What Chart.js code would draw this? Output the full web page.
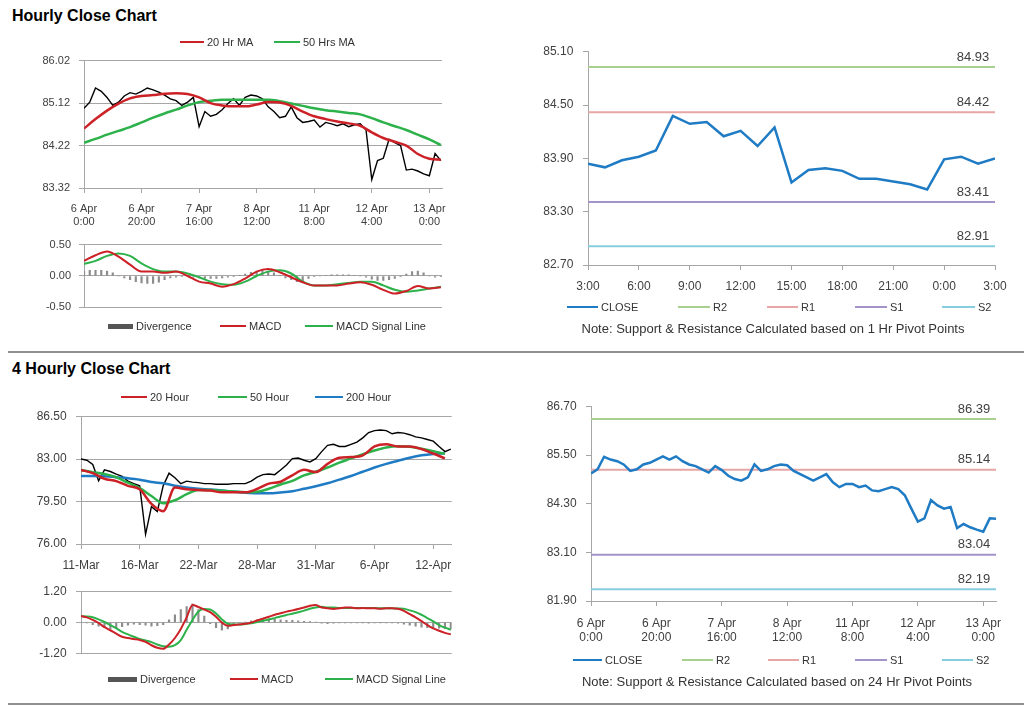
<!DOCTYPE html>
<html><head><meta charset="utf-8">
<script src="https://cdn.jsdelivr.net/npm/chart.js@4.4.1/dist/chart.umd.min.js"></script>
<style>
html,body{margin:0;padding:0;background:#fff}
body{width:1024px;height:706px;position:relative;overflow:hidden;font-family:"Liberation Sans",Arial,sans-serif}
.title{position:absolute;left:12px;font-weight:bold;font-size:16px;color:#000;line-height:18px;white-space:nowrap}
.rule{position:absolute;left:8px;width:1016px;height:0;border-top:2px solid #8f8f8f}
.lgItem{position:absolute;height:13px;font-size:11px;line-height:13px;color:#333;white-space:nowrap}
.note{position:absolute;font-size:13px;color:#333;white-space:nowrap;transform:translateX(-50%);line-height:15px}
</style></head><body>
<div class="title" style="top:7px">Hourly Close Chart</div>
<div class="title" style="top:360px">4 Hourly Close Chart</div>
<div class="rule" style="top:351px"></div>
<div class="rule" style="top:703px"></div>
<script>
// ---------------- DATA ----------------
// Hourly chart (x = hours since 6 Apr 0:00)
const hourlyTickLabels = [['6 Apr','0:00'],['6 Apr','20:00'],['7 Apr','16:00'],['8 Apr','12:00'],['11 Apr','8:00'],['12 Apr','4:00'],['13 Apr','0:00']];
const hourlyClose = [85.01,85.14,85.44,85.37,85.24,85.07,85.14,85.27,85.34,85.31,85.37,85.44,85.40,85.35,85.29,85.21,85.17,85.07,85.14,85.24,84.62,84.94,84.84,84.88,84.98,85.11,85.21,85.07,85.24,85.29,85.27,85.21,85.04,84.94,84.81,84.84,85.04,84.81,84.71,84.73,84.76,84.61,84.71,84.68,84.64,84.68,84.62,84.66,84.68,84.55,83.50,83.90,83.95,84.35,84.28,84.22,83.70,83.72,83.68,83.62,83.58,84.05,83.90];
const ma20Hr = [84.58,84.78,84.96,85.11,85.22,85.27,85.29,85.32,85.33,85.31,85.24,85.12,85.07,85.05,85.05,85.09,85.14,85.13,85.06,84.94,84.84,84.78,84.73,84.69,84.64,84.50,84.38,84.30,84.22,84.04,83.94,83.92];
const ma50Hrs = [84.28,84.36,84.45,84.53,84.61,84.71,84.81,84.90,84.98,85.07,85.14,85.17,85.19,85.19,85.19,85.19,85.19,85.16,85.11,85.06,85.01,84.97,84.94,84.91,84.88,84.80,84.71,84.63,84.55,84.45,84.35,84.23];
const macdHourly = [0.24,0.33,0.39,0.31,0.18,0.07,0.07,0.05,0.07,0.00,-0.09,-0.12,-0.17,-0.13,-0.04,0.07,0.11,0.06,-0.02,-0.10,-0.15,-0.15,-0.15,-0.12,-0.10,-0.14,-0.22,-0.28,-0.24,-0.16,-0.20,-0.18];
const signalHourly = [0.19,0.24,0.32,0.36,0.32,0.20,0.11,0.07,0.07,0.04,-0.02,-0.09,-0.13,-0.14,-0.09,0.00,0.07,0.09,0.04,-0.09,-0.15,-0.15,-0.13,-0.11,-0.09,-0.09,-0.15,-0.22,-0.25,-0.23,-0.20,-0.17];
const divergenceHourly = [0.08,0.09,0.09,0.09,0.08,0.05,0.00,-0.03,-0.06,-0.09,-0.11,-0.12,-0.12,-0.10,-0.06,-0.03,-0.02,-0.01,-0.01,-0.02,-0.03,-0.04,-0.04,-0.04,-0.03,-0.02,-0.01,0.01,0.03,0.06,0.08,0.09,0.08,0.05,0.01,-0.03,-0.06,-0.09,-0.08,-0.04,-0.01,0.00,0.01,0.02,0.02,0.02,0.02,0.01,0.00,-0.02,-0.05,-0.07,-0.07,-0.06,-0.04,-0.01,0.03,0.07,0.08,0.05,0.00,-0.02,-0.01];

// Last 24 hours with 1 Hr pivots
const dayTickLabels = ['3:00','6:00','9:00','12:00','15:00','18:00','21:00','0:00','3:00'];
const dayClose = [83.84,83.80,83.88,83.92,83.99,84.38,84.29,84.31,84.15,84.21,84.04,84.25,83.63,83.77,83.79,83.76,83.67,83.67,83.64,83.61,83.55,83.89,83.92,83.84,83.90];
const pivotNames = ['R2','R1','S1','S2'];
const hourlyPivots = [84.93,84.42,83.41,82.91];

// 4 hourly chart (x = 4h bar index since 11-Mar)
const fourHourTickLabels = ['11-Mar','16-Mar','22-Mar','28-Mar','31-Mar','6-Apr','12-Apr'];
const fourHourClose = [83.00,82.90,82.55,81.20,82.10,81.97,81.76,81.58,81.18,80.97,80.79,76.80,79.08,78.68,80.79,81.84,81.45,80.97,81.18,81.10,81.05,80.97,80.97,80.92,80.92,80.92,80.97,80.97,80.97,81.18,81.50,81.71,81.76,81.71,82.10,82.50,83.03,83.08,82.90,82.76,83.03,83.61,84.13,84.21,84.03,84.03,84.21,84.39,84.74,85.18,85.34,85.39,85.34,85.08,85.18,85.13,85.00,84.82,84.74,84.61,84.47,84.03,83.61,83.82];
const ma20Hour = [82.10,81.84,81.37,81.18,80.79,80.50,79.30,78.70,80.66,80.50,80.45,80.40,80.26,80.26,80.26,80.53,80.97,81.13,81.66,82.11,81.92,82.60,83.10,83.16,83.30,84.03,84.21,84.03,84.03,83.82,83.45,83.05];
const ma50Hour = [82.10,81.92,81.76,81.50,81.05,80.60,79.95,79.35,79.60,80.10,80.45,80.45,80.38,80.32,80.26,80.30,80.55,80.90,81.20,81.65,81.95,82.30,82.70,83.05,83.40,83.70,83.95,84.05,84.00,83.85,83.65,83.42];
const ma200Hour = [81.60,81.60,81.58,81.50,81.42,81.30,81.10,81.00,80.80,80.66,80.55,80.48,80.40,80.30,80.22,80.18,80.18,80.25,80.35,80.55,80.75,81.00,81.30,81.60,81.95,82.30,82.60,82.85,83.10,83.30,83.42,83.48];
const macdFour = [0.25,0.20,0.10,-0.02,-0.18,-0.30,-0.43,-0.55,-0.60,-0.64,-0.68,-0.75,-0.88,-0.98,-1.02,-0.85,-0.60,-0.25,0.20,0.68,0.60,0.50,0.40,0.22,0.00,-0.13,-0.10,-0.08,-0.05,0.00,0.08,0.15,0.22,0.30,0.36,0.42,0.47,0.52,0.58,0.65,0.68,0.58,0.55,0.52,0.55,0.58,0.58,0.55,0.56,0.55,0.55,0.53,0.55,0.55,0.53,0.45,0.32,0.20,0.05,-0.10,-0.23,-0.32,-0.40,-0.46];
const signalFour = [0.24,0.23,0.20,0.12,0.02,-0.10,-0.22,-0.36,-0.46,-0.55,-0.64,-0.70,-0.76,-0.85,-0.92,-0.94,-0.88,-0.68,-0.28,0.10,0.43,0.52,0.50,0.35,0.12,-0.05,-0.08,-0.08,-0.06,-0.03,0.02,0.07,0.12,0.17,0.23,0.29,0.34,0.40,0.46,0.53,0.58,0.61,0.58,0.58,0.56,0.56,0.56,0.56,0.56,0.56,0.56,0.55,0.55,0.55,0.54,0.53,0.47,0.40,0.30,0.17,0.04,-0.10,-0.20,-0.28];
const divergenceFour = [0.02,-0.02,-0.08,-0.14,-0.20,-0.24,-0.22,-0.16,-0.10,-0.06,-0.08,-0.10,-0.14,-0.12,-0.08,0.10,0.30,0.50,0.62,0.72,0.50,0.25,-0.05,-0.20,-0.30,-0.25,-0.10,-0.02,0.02,0.06,0.10,0.14,0.14,0.12,0.10,0.08,0.08,0.06,0.05,0.04,0.02,-0.03,-0.05,-0.03,-0.02,-0.01,-0.02,-0.02,-0.01,-0.03,-0.02,-0.01,-0.02,-0.02,-0.03,-0.06,-0.10,-0.14,-0.18,-0.20,-0.20,-0.22,-0.24,-0.25];

// Hourly close over the week with 24 Hr pivots
const weekClose = [85.05,85.15,85.46,85.39,85.35,85.27,85.11,85.15,85.27,85.31,85.39,85.47,85.39,85.47,85.35,85.27,85.23,85.15,85.07,85.23,85.13,84.99,84.91,84.87,84.95,85.27,85.11,85.15,85.23,85.27,85.25,85.11,85.03,84.95,84.87,84.95,85.03,84.83,84.71,84.79,84.79,84.71,84.75,84.63,84.61,84.66,84.71,84.66,84.51,84.18,83.86,83.94,84.39,84.26,84.18,84.22,83.70,83.80,83.72,83.66,83.61,83.94,83.93];
const dailyPivots = [86.39,85.14,83.04,82.19];

// ---------------- STYLE ----------------
const RED = '#CC2127', GREEN = '#2DB24B', BLUE = '#1F7BC4', BLACK = '#000000';
const AXIS = '#A6A6A6', TXT = '#404040';
const pivotColors = ['#A9D08E', '#E6A6A6', '#A493C9', '#86CDE0'];
Chart.defaults.font.family = '"Liberation Sans", Arial, sans-serif';
Chart.defaults.color = TXT;

const toXY = (vals, step) => vals.map((v, i) => ({x: i * step, y: v}));
const range = (a, b, s) => { const r = []; for (let v = a; v <= b + 1e-9; v += s) r.push(+v.toFixed(4)); return r; };

function yScale(min, max, step, size, pad, width, onArea) {
  return {
    type: 'linear', position: 'left', min, max,
    afterBuildTicks: s => { s.ticks = range(min, max, step).map(v => ({value: v})); },
    afterFit: s => { s.width = width; },
    ticks: {font: {size}, color: TXT, padding: pad, callback: v => Number(v).toFixed(2)},
    grid: {color: AXIS, lineWidth: 1, drawOnChartArea: onArea, tickLength: 5},
    border: {display: true, color: AXIS, width: 1}
  };
}
function xScale(max, step, labels, size, pad, height) {
  return {
    type: 'linear', position: 'bottom', min: 0, max, offset: false,
    afterBuildTicks: s => { s.ticks = labels.map((l, i) => ({value: i * step})); },
    afterFit: s => { s.height = height; },
    ticks: {font: {size}, color: TXT, padding: pad, maxRotation: 0, autoSkip: false, callback: (v, i) => labels[i]},
    grid: {color: AXIS, drawOnChartArea: false, tickLength: 5},
    border: {display: true, color: AXIS, width: 1}
  };
}
function hiddenX(max) {
  return {type: 'linear', min: 0, max, offset: false, display: false};
}
const line = (label, data, color, width, smooth) => ({
  type: 'line', label, data, borderColor: color, backgroundColor: color, borderWidth: width,
  pointRadius: 0, tension: smooth ? 0.4 : 0, cubicInterpolationMode: smooth ? 'monotone' : 'default', fill: false
});
const bars = (label, data) => ({
  type: 'bar', label, data, backgroundColor: '#8C8C8C', borderWidth: 0, barThickness: 1.5
});

const pivotLabelPlugin = {
  id: 'pivotLabels',
  afterDatasetsDraw(chart) {
    const {ctx, chartArea, scales} = chart;
    chart.data.datasets.forEach(ds => {
      if (!ds.pivotText) return;
      const y = scales.y.getPixelForValue(ds.data[0].y);
      ctx.save();
      ctx.font = '13px "Liberation Sans", Arial, sans-serif';
      ctx.fillStyle = TXT; ctx.textAlign = 'center'; ctx.textBaseline = 'middle';
      ctx.fillText(ds.pivotText, chartArea.right - 22, y - 10);
      ctx.restore();
    });
  }
};
const pivotSets = (vals, xmax) => vals.map((v, i) => Object.assign(
  line(pivotNames[i], [{x: 0, y: v}, {x: xmax, y: v}], pivotColors[i], 2, false), {pivotText: v.toFixed(2)}));

function makeChart(box, padding, datasets, scales, plugins) {
  const c = document.createElement('canvas');
  c.width = box.w; c.height = box.h;
  c.style.cssText = `position:absolute;left:${box.x}px;top:${box.y}px;width:${box.w}px;height:${box.h}px`;
  document.body.appendChild(c);
  return new Chart(c, {
    type: 'line',
    data: {datasets},
    options: {
      responsive: false, animation: false, devicePixelRatio: 1,
      layout: {padding},
      plugins: {legend: {display: false}, tooltip: {enabled: false}},
      elements: {point: {radius: 0}},
      scales
    },
    plugins: plugins || []
  });
}

// A: hourly price
makeChart({x: 0, y: 45, w: 460, h: 185}, {top: 7, right: 18, left: 0, bottom: 0},
  [line('20 Hr MA', toXY(ma20Hr, 4), RED, 2.5, true),
   line('50 Hrs MA', toXY(ma50Hrs, 4), GREEN, 2.5, true),
   line('Close', toXY(hourlyClose, 2), BLACK, 1.4, false)],
  {x: xScale(124.4, 20, hourlyTickLabels, 11, 9, 42), y: yScale(83.32, 86.02, 0.9, 11, 9, 84, true)});

// B: hourly MACD
makeChart({x: 0, y: 230, w: 460, h: 92}, {top: 7.7, right: 18, left: 0, bottom: 8.7},
  [line('MACD', toXY(macdHourly, 4), RED, 2, true),
   line('MACD Signal Line', toXY(signalHourly, 4), GREEN, 2, true),
   bars('Divergence', toXY(divergenceHourly, 2))],
  {x: hiddenX(124.4), y: yScale(-0.5, 0.5, 0.5, 11, 8, 84, true)});

// C: last day with 1 Hr pivots
makeChart({x: 520, y: 35, w: 500, h: 265}, {top: 11.7, right: 25, left: 0, bottom: 0},
  [line('CLOSE', toXY(dayClose, 1), BLUE, 2.5, false)].concat(pivotSets(hourlyPivots, 24)),
  {x: xScale(24, 3, dayTickLabels, 12, 9.5, 35), y: yScale(82.7, 85.1, 0.6, 12, 9.7, 68, false)},
  [pivotLabelPlugin]);

// D: 4 hourly price
makeChart({x: 0, y: 400, w: 465, h: 175}, {top: 11, right: 13.3, left: 0, bottom: 0},
  [line('20 Hour', toXY(ma20Hour, 4), RED, 2.5, true),
   line('50 Hour', toXY(ma50Hour, 4), GREEN, 2.5, true),
   line('200 Hour', toXY(ma200Hour, 4), BLUE, 2.5, true),
   line('Close', toXY(fourHourClose, 2), BLACK, 1.4, false)],
  {x: xScale(126.3, 20, fourHourTickLabels, 12, 9.5, 31), y: yScale(76, 86.5, 3.5, 12, 9.3, 81, true)});

// E: 4 hourly MACD
makeChart({x: 0, y: 575, w: 465, h: 95}, {top: 8.3, right: 13.3, left: 0, bottom: 7.3},
  [line('MACD', toXY(macdFour, 2), RED, 2, true),
   line('MACD Signal Line', toXY(signalFour, 2), GREEN, 2, true),
   bars('Divergence', toXY(divergenceFour, 2))],
  {x: hiddenX(126.3), y: yScale(-1.2, 1.2, 1.2, 12, 9.3, 81, true)});

// F: week with 24 Hr pivots
makeChart({x: 520, y: 390, w: 500, h: 260}, {top: 12.7, right: 24, left: 0, bottom: 0},
  [line('CLOSE', toXY(weekClose, 2), BLUE, 2.5, false)].concat(pivotSets(dailyPivots, 124)),
  {x: xScale(123.9, 20, hourlyTickLabels, 12, 10, 49), y: yScale(81.9, 86.7, 1.2, 12, 9.3, 71, false)},
  [pivotLabelPlugin]);

// ---------------- HTML legends ----------------
function legend(y, items) {
  items.forEach(([x, w, color, kind, text]) => {
    const sw = document.createElement('div');
    const h = kind === 'box' ? 5 : 2;
    sw.style.cssText = `position:absolute;left:${x}px;top:${y - h / 2}px;width:${w}px;height:${h}px;background:${color}`;
    document.body.appendChild(sw);
    const t = document.createElement('div');
    t.className = 'lgItem'; t.textContent = text;
    t.style.left = (x + w + 3) + 'px'; t.style.top = (y - 6.5) + 'px';
    document.body.appendChild(t);
  });
}
function note(x, y, text) {
  const d = document.createElement('div');
  d.className = 'note'; d.textContent = text;
  d.style.left = x + 'px'; d.style.top = (y - 7.5) + 'px';
  document.body.appendChild(d);
}
legend(42, [[180, 24, RED, 'line', '20 Hr MA'], [274, 26, GREEN, 'line', '50 Hrs MA']]);
legend(326, [[108, 25, '#555', 'box', 'Divergence'], [220, 26, RED, 'line', 'MACD'], [305, 28, GREEN, 'line', 'MACD Signal Line']]);
legend(307, [[567, 31, BLUE, 'line', 'CLOSE'], [678, 32, pivotColors[0], 'line', 'R2'], [767, 31, pivotColors[1], 'line', 'R1'], [855, 32, pivotColors[2], 'line', 'S1'], [942, 33, pivotColors[3], 'line', 'S2']]);
note(773, 328, 'Note: Support & Resistance Calculated based on 1 Hr Pivot Points');
legend(397, [[121, 26, RED, 'line', '20 Hour'], [218, 29, GREEN, 'line', '50 Hour'], [315, 28, BLUE, 'line', '200 Hour']]);
legend(679, [[108, 29, '#555', 'box', 'Divergence'], [230, 28, RED, 'line', 'MACD'], [325, 28, GREEN, 'line', 'MACD  Signal Line']]);
legend(660, [[573, 29, BLUE, 'line', 'CLOSE'], [682, 31, pivotColors[0], 'line', 'R2'], [768, 31, pivotColors[1], 'line', 'R1'], [855, 32, pivotColors[2], 'line', 'S1'], [942, 31, pivotColors[3], 'line', 'S2']]);
note(777, 681, 'Note: Support & Resistance Calculated based on 24 Hr Pivot Points');
</script>
</body></html>
